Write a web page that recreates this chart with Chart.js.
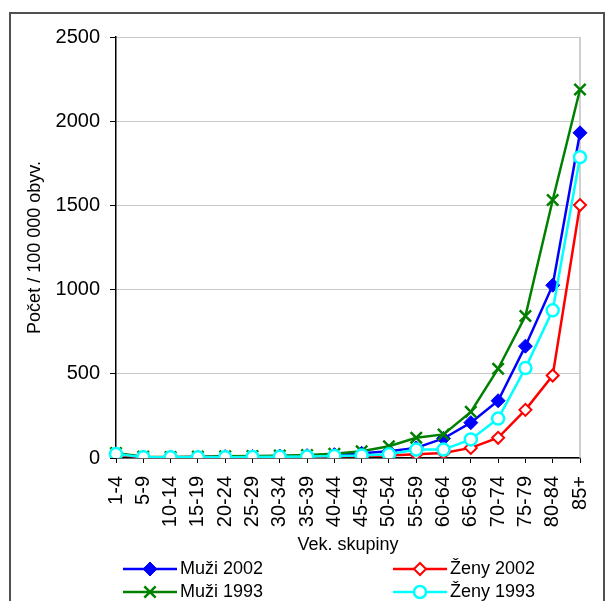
<!DOCTYPE html>
<html>
<head>
<meta charset="utf-8">
<script src="https://cdn.jsdelivr.net/npm/chart.js@4/dist/chart.umd.min.js"></script>
<style>
  body { margin: 0; background: #fff; }
  #wrap { width: 605px; height: 601px; }
</style>
</head>
<body>
<div id="wrap"><canvas id="myChart" width="605" height="601"></canvas></div>
<script>
// age groups on the x axis
const ageGroups = ['1-4', '5-9', '10-14', '15-19', '20-24', '25-29', '30-34', '35-39', '40-44',
  '45-49', '50-54', '55-59', '60-64', '65-69', '70-74', '75-79', '80-84', '85+'];

// values (per 100 000 inhabitants)
const muzi2002 = [24, 6, 5, 6, 8, 9, 12, 14, 20, 28, 40, 60, 116, 210, 340, 664, 1026, 1931];
const zeny2002 = [20, 4, 3, 3, 4, 5, 6, 8, 10, 12, 15, 22, 30, 60, 120, 286, 490, 1502];
const muzi1993 = [30, 8, 6, 8, 10, 12, 14, 18, 25, 40, 70, 120, 140, 274, 530, 843, 1532, 2188];
const zeny1993 = [24, 5, 4, 4, 5, 6, 7, 9, 12, 15, 22, 50, 50, 110, 234, 534, 877, 1786];

const yTicks = [0, 500, 1000, 1500, 2000, 2500];

const fontFamily = '"Liberation Sans", Arial, sans-serif';

// frame round the whole chart + plot border on the right
const framePlugin = {
  id: 'frame',
  beforeDraw(chart) {
    const ctx = chart.ctx;
    ctx.save();
    ctx.fillStyle = '#fff';
    ctx.fillRect(0, 0, chart.width, chart.height);
    ctx.strokeStyle = '#505050';
    ctx.lineWidth = 2;
    ctx.strokeRect(10, 13, 594, 640);
    ctx.restore();
  },
  beforeDatasetsDraw(chart) {
    const a = chart.chartArea;
    const ctx = chart.ctx;
    ctx.save();
    ctx.strokeStyle = '#c0c0c0';
    ctx.lineWidth = 1.5;
    ctx.beginPath();
    ctx.moveTo(a.right, a.top);
    ctx.lineTo(a.right, a.bottom);
    ctx.stroke();
    ctx.restore();
  }
};

// legend in two columns like the original
const legendPlugin = {
  id: 'gridLegend',
  afterDraw(chart) {
    const ctx = chart.ctx;
    const spots = [
      {x: 123, y: 569}, {x: 393, y: 569},
      {x: 123, y: 592}, {x: 393, y: 592}
    ];
    ctx.save();
    chart.data.datasets.forEach((ds, i) => {
      const s = spots[i];
      ctx.strokeStyle = ds.borderColor;
      ctx.lineWidth = ds.borderWidth;
      ctx.beginPath();
      ctx.moveTo(s.x, s.y);
      ctx.lineTo(s.x + 54, s.y);
      ctx.stroke();
      ctx.fillStyle = ds.pointBackgroundColor;
      ctx.strokeStyle = ds.pointBorderColor;
      ctx.lineWidth = ds.pointBorderWidth;
      Chart.helpers.drawPoint(ctx, {
        pointStyle: ds.pointStyle,
        radius: ds.pointRadius,
        borderWidth: ds.pointBorderWidth
      }, s.x + 27, s.y);
      ctx.fillStyle = '#000';
      ctx.font = '18px ' + fontFamily;
      ctx.textBaseline = 'middle';
      ctx.textAlign = 'left';
      ctx.fillText(ds.label, s.x + 57, s.y);
    });
    ctx.restore();
  }
};

const myChart = document.getElementById('myChart');

let lineChart = new Chart(myChart, {
  type: 'line',
  data: {
    labels: ageGroups,
    datasets: [
      {
        label: 'Muži 2002',
        data: muzi2002,
        borderColor: '#0000ff',
        borderWidth: 2.5,
        pointStyle: 'rectRot',
        pointRadius: 7,
        pointBackgroundColor: '#0000ff',
        pointBorderColor: '#0000ff',
        pointBorderWidth: 1,
        order: 3
      },
      {
        label: 'Ženy 2002',
        data: zeny2002,
        borderColor: '#ff0000',
        borderWidth: 2.5,
        pointStyle: 'rectRot',
        pointRadius: 6,
        pointBackgroundColor: '#ffffff',
        pointBorderColor: '#ff0000',
        pointBorderWidth: 2,
        order: 2
      },
      {
        label: 'Muži 1993',
        data: muzi1993,
        borderColor: '#008000',
        borderWidth: 2.5,
        pointStyle: 'crossRot',
        pointRadius: 8,
        pointBackgroundColor: '#008000',
        pointBorderColor: '#008000',
        pointBorderWidth: 2.5,
        order: 1
      },
      {
        label: 'Ženy 1993',
        data: zeny1993,
        borderColor: '#00ffff',
        borderWidth: 2.5,
        pointStyle: 'circle',
        pointRadius: 6,
        pointBackgroundColor: '#ffffff',
        pointBorderColor: '#00ffff',
        pointBorderWidth: 2.5,
        order: 0
      }
    ]
  },
  options: {
    responsive: false,
    animation: false,
    layout: {
      padding: {left: 24, right: 25, top: 37, bottom: 45}
    },
    plugins: {
      legend: {display: false},
      tooltip: {enabled: false}
    },
    elements: {
      line: {tension: 0}
    },
    scales: {
      x: {
        offset: false,
        grid: {drawOnChartArea: false, tickColor: '#000', tickLength: 5, tickWidth: 1},
        border: {color: '#000', width: 1.5},
        ticks: {
          color: '#000',
          font: {family: fontFamily, size: 20},
          minRotation: 90,
          maxRotation: 90,
          autoSkip: false,
          padding: 13
        },
        title: {
          display: true,
          text: 'Vek. skupiny',
          color: '#000',
          font: {family: fontFamily, size: 18},
          padding: 0
        },
        afterFit(scale) {
          scale.height = 98;
          // the layout padding already leaves room for the end labels
          scale.paddingLeft = 0;
          scale.paddingRight = 0;
        }
      },
      y: {
        min: 0,
        max: 2500,
        afterBuildTicks(scale) { scale.ticks = yTicks.map(v => ({value: v})); },
        grid: {color: '#c8c8c8', tickColor: '#000', tickLength: 6, lineWidth: 1},
        border: {color: '#000', width: 1.5},
        ticks: {
          color: '#000',
          font: {family: fontFamily, size: 20},
          padding: 10,
          callback: v => String(v)
        },
        title: {
          display: true,
          text: 'Počet / 100 000 obyv.',
          color: '#000',
          font: {family: fontFamily, size: 18},
          padding: 0
        },
        afterFit(scale) { scale.width = 92; }
      }
    }
  },
  plugins: [framePlugin, legendPlugin]
});
</script>
</body>
</html>
